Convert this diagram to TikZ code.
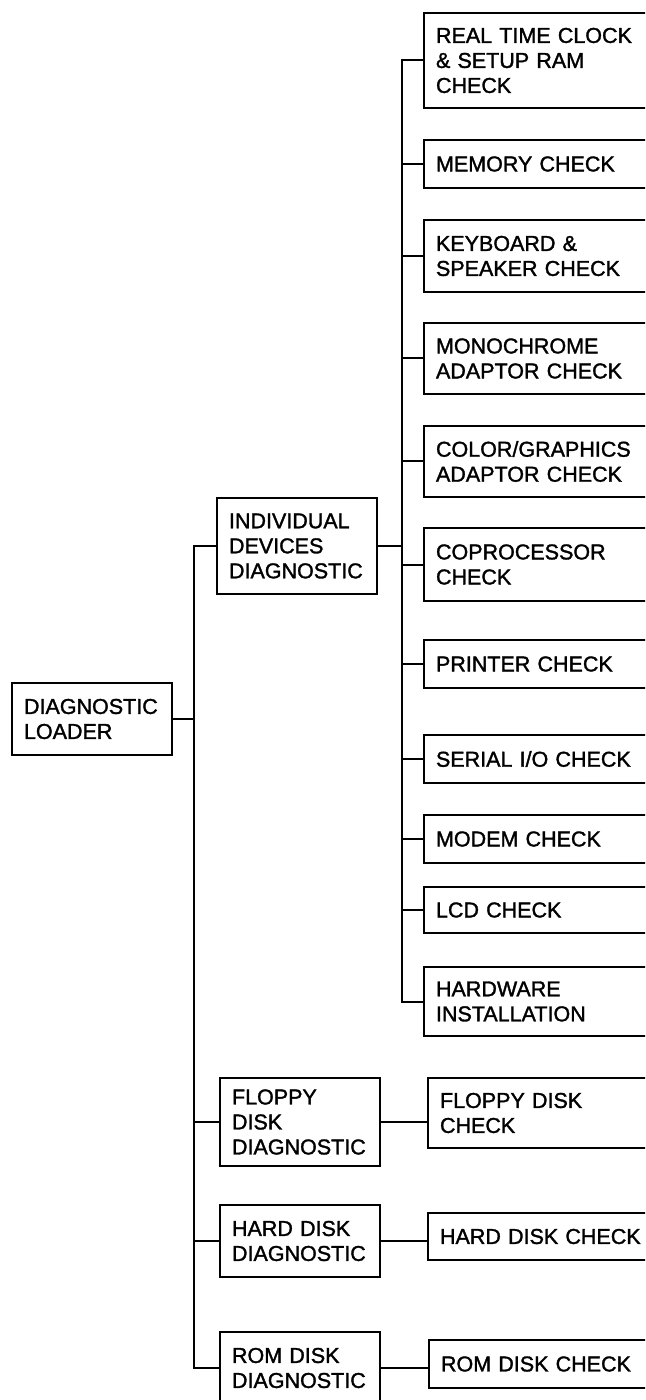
\documentclass[tikz,border=0pt]{standalone}
\usepackage{fontspec}
\setmainfont{Liberation Sans}[RawFeature={embolden=1.5}]
\begin{document}
\begin{tikzpicture}[x=0.5pt,y=-0.5pt,line width=1pt,
    every node/.style={font=\fontsize{10.75}{12.5}\selectfont},
    chk/.style={draw,anchor=west,align=left,text width=109pt,inner xsep=6pt,inner ysep=0pt},
    diag/.style={draw,align=left,text width=68pt,inner xsep=6pt,inner ysep=0pt}]
    \useasboundingbox (0,0) rectangle (645,1400);
    \clip (0,0) rectangle (645,1400);
    \coordinate (lbus) at (194,0);
    \coordinate (rbus) at (402,0);
    \node[diag,minimum height=36pt] (loader) at (92,719) {DIAGNOSTIC\\LOADER};
    \node[diag,minimum height=48pt] (indiv) at (297,546) {INDIVIDUAL\\DEVICES\\DIAGNOSTIC};
    \node[diag,minimum height=44pt] (floppy) at (300,1122) {FLOPPY\\DISK\\DIAGNOSTIC};
    \node[diag,minimum height=36pt] (hard) at (300,1241) {HARD DISK\\DIAGNOSTIC};
    \node[diag,minimum height=36pt] (rom) at (300,1368) {ROM DISK\\DIAGNOSTIC};
    \node[chk,minimum height=47.5pt] (rtc) at (423,60.5) {REAL TIME CLOCK\\\& SETUP RAM\\CHECK};
    \node[chk,minimum height=24pt] (memory) at (423,164) {MEMORY CHECK};
    \node[chk,minimum height=36pt] (keyboard) at (423,256) {KEYBOARD \&\\SPEAKER CHECK};
    \node[chk,minimum height=35.5pt] (mono) at (423,358.5) {MONOCHROME\\ADAPTOR CHECK};
    \node[chk,minimum height=35.5pt] (color) at (423,461.5) {COLOR/GRAPHICS\\ADAPTOR CHECK};
    \node[chk,minimum height=36.5pt] (copro) at (423,564.5) {COPROCESSOR\\CHECK};
    \node[chk,minimum height=24pt] (printer) at (423,664) {PRINTER CHECK};
    \node[chk,minimum height=24pt] (serial) at (423,759) {SERIAL I/O CHECK};
    \node[chk,minimum height=24pt] (modem) at (423,839) {MODEM CHECK};
    \node[chk,minimum height=23pt] (lcd) at (423,910) {LCD CHECK};
    \node[chk,minimum height=34.5pt] (hardware) at (423,1001.5) {HARDWARE\\INSTALLATION};
    \node[chk,minimum height=35pt] (floppychk) at (427,1113) {FLOPPY DISK\\CHECK};
    \node[chk,minimum height=23.5pt] (hardchk) at (427,1236.5) {HARD DISK CHECK};
    \node[chk,minimum height=24pt] (romchk) at (428,1364) {ROM DISK CHECK};
    \draw (indiv.west) -- (indiv.west -| lbus) -- (rom.west -| lbus) -- (rom.west);
    \foreach \n in {loader} \draw (\n.east) -- (\n.east -| lbus);
    \foreach \n in {floppy,hard} \draw (\n.west) -- (\n.west -| lbus);
    \draw (rtc.west) -- (rtc.west -| rbus) -- (hardware.west -| rbus) -- (hardware.west);
    \foreach \n in {memory,keyboard,mono,color,copro,printer,serial,modem,lcd} \draw (\n.west) -- (\n.west -| rbus);
    \draw (indiv.east) -- (indiv.east -| rbus);
    \draw (floppy.east) -- (floppy.east -| floppychk.west);
    \draw (hard.east) -- (hard.east -| hardchk.west);
    \draw (rom.east) -- (rom.east -| romchk.west);
\end{tikzpicture}
\end{document}
